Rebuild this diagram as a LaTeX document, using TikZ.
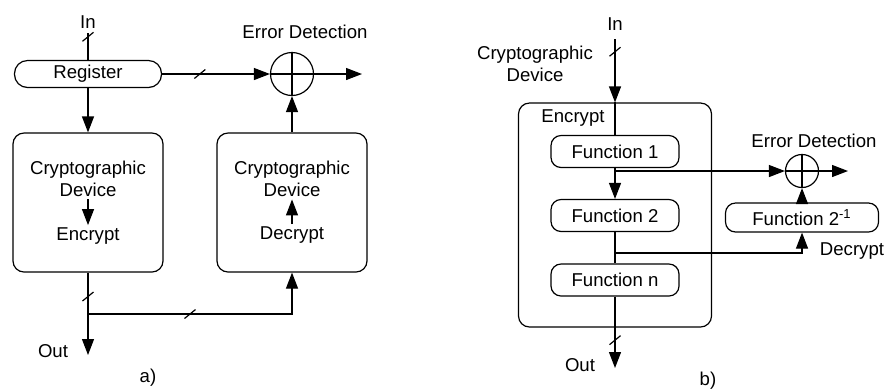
\documentclass[tikz,border=0pt]{standalone}
\usepackage{fontspec}
\setmainfont{Liberation Sans}
\usetikzlibrary{arrows.meta}

\begin{document}
\begin{tikzpicture}[x=0.5pt, y=-0.5pt, line width=0.6pt,
    font=\fontsize{9.3}{11}\selectfont,
    >={Triangle[length=8pt,width=6pt]},
    blk/.style={draw, rounded corners=5.5pt, minimum width=#1},
    fn/.style={draw, rounded corners=5pt, minimum width=64pt, minimum height=16pt, inner sep=0pt},
    xor/.style={draw, circle, minimum size=#1, inner sep=0pt},
    txt/.style={align=center, inner sep=1pt},
    bus/.pic={\draw[-, shorten <=0pt, shorten >=0pt] (-2.75pt,-2.25pt) -- (2.75pt,2.25pt);}]
  \useasboundingbox (0,0) rectangle (886,388);

  % a)
  \node[txt] (inA) at (88,22) {In};
  \node[draw, rounded corners=6.5pt, minimum width=73.5pt, minimum height=13.5pt, inner sep=0pt] (reg) at (88,74) {Register};
  \node[blk=75pt, minimum height=69.5pt] (encbox) at (88,202.5) {};
  \node[txt] (encname) at (88,179) {Cryptographic\\Device};
  \node[txt] (enc) at (88,236) {Encrypt};
  \node[blk=75pt, minimum height=69.5pt] (decbox) at (292,202.5) {};
  \node[txt] (decname) at (292,179) {Cryptographic\\Device};
  \node[txt] (dec) at (292,235) {Decrypt};
  \node[xor=21.5pt] (xorA) at (292,74) {};
  \node[txt] (errA) at (305,32) {Error Detection};
  \coordinate (outA) at (88,355);
  \coordinate (brA) at (88,314);
  \coordinate (resA) at (362,74);
  \node[txt] (outlblA) at (53,351) {Out};
  \node[txt] (capA) at (148,378) {a)};

  \draw (xorA.north) -- (xorA.south) (xorA.west) -- (xorA.east);
  \draw[shorten <=1pt] (inA.south) -- pic[pos=0.2]{bus} (reg.north);
  \draw[->] (reg) -- pic[pos=0.35]{bus} (xorA);
  \draw[->] (xorA) -- (resA);
  \draw[->] (reg) -- (encbox);
  \draw[->] (decbox) -- (xorA);
  \draw[->] (encname) -- (enc);
  \draw[->] (dec) -- (decname);
  \draw[->] (encbox) -- pic[pos=0.29]{bus} (outA);
  \draw[->] (brA) -- pic{bus} (brA -| decbox.south) -- (decbox);

  % b)
  \node[txt] (inB) at (615,24) {In};
  \node[txt] (devB) at (535,64) {Cryptographic\\Device};
  \node[blk=96.5pt, minimum height=112pt] (encB) at (615,215) {};
  \node[txt] (encBlbl) at (573,118) {Encrypt};
  \node[fn] (f1) at (615,151.5) {Function 1};
  \node[fn] (f2) at (615,215.5) {Function 2};
  \node[fn] (fn) at (615,280) {Function n};
  \node[xor=16.5pt] (xorB) at (802,171) {};
  \node[txt] (errB) at (814,141) {Error Detection};
  \node[draw, rounded corners=5pt, minimum width=76.5pt, minimum height=14.5pt, inner sep=0pt] (finv) at (802,217.5) {Function 2\textsuperscript{-1}};
  \node[txt] (decB) at (852,251) {Decrypt};
  \coordinate (tapB1) at (615,171);
  \coordinate (tapB2) at (615,253);
  \coordinate (resB) at (848,171);
  \coordinate (outB) at (615,368);
  \node[txt] (outlblB) at (580,365) {Out};
  \node[txt] (capB) at (708,381) {b)};

  \draw[->, shorten <=3pt] (inB.south) -- pic[pos=0.27]{bus} (encB.north);
  \draw (encB.north) -- (f1.north);
  \draw[->] (f1) -- (f2);
  \draw[->] (tapB1) -- (xorB);
  \draw (xorB.north) -- (xorB.south) (xorB.west) -- (xorB.east);
  \draw[->] (xorB) -- (resB);
  \draw[->] (finv) -- (xorB);
  \draw (f2) -- (fn);
  \draw[->] (tapB2) -| (finv);
  \draw[->] (fn) -- pic[pos=0.61]{bus} (outB);
\end{tikzpicture}
\end{document}
